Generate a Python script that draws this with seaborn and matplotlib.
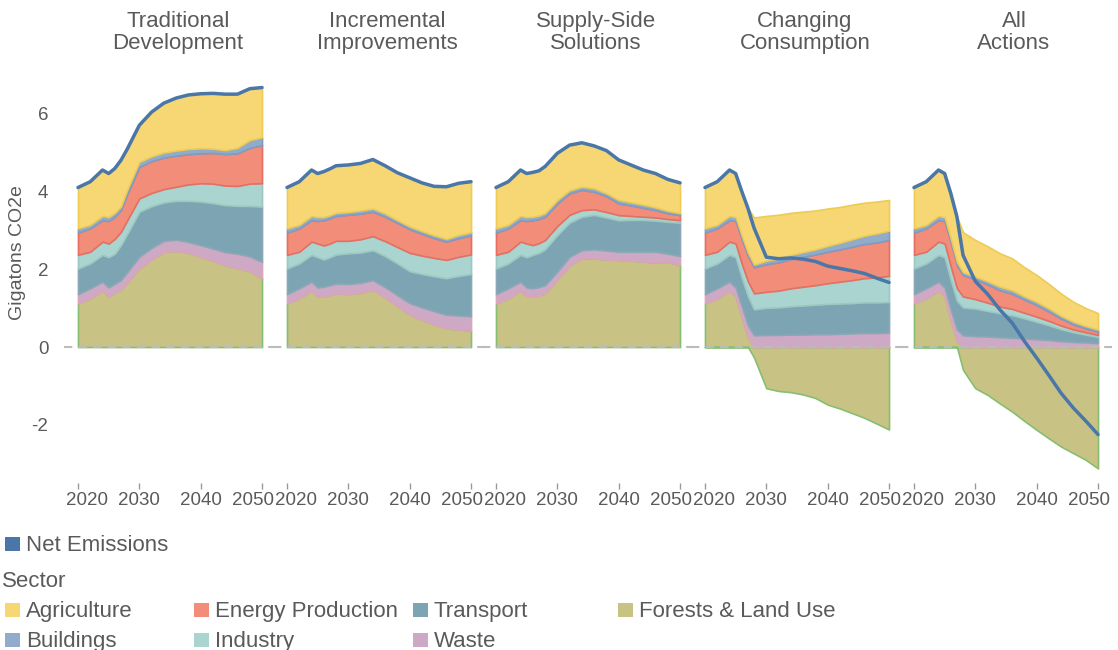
import matplotlib
matplotlib.use("Agg")
import numpy as np
import pandas as pd
import matplotlib.pyplot as plt
import seaborn as sns
from matplotlib.patches import Rectangle
from matplotlib.transforms import ScaledTranslation

sns.set_style("white")
plt.rcParams.update({
    "font.family": ["Liberation Sans", "DejaVu Sans"],
    "axes.unicode_minus": False,
    "axes.axisbelow": True,
})

YEARS = [2020, 2022, 2024, 2025, 2026, 2027, 2028, 2030, 2032,
         2034, 2036, 2038, 2040, 2042, 2044, 2046, 2048, 2050]

# stack order, bottom -> top
SECTORS = ["Forests & Land Use", "Waste", "Transport", "Industry",
           "Energy Production", "Buildings", "Agriculture"]

TRADITIONAL = {
    "Forests & Land Use": [1.12, 1.25, 1.45, 1.30, 1.40, 1.47, 1.65, 2.02, 2.25, 2.45, 2.47, 2.42, 2.32, 2.22, 2.10, 2.03, 1.95, 1.77],
    "Waste":              [0.24, 0.26, 0.23, 0.23, 0.23, 0.25, 0.27, 0.30, 0.30, 0.28, 0.29, 0.28, 0.30, 0.31, 0.34, 0.37, 0.38, 0.42],
    "Transport":          [0.66, 0.64, 0.69, 0.78, 0.77, 0.90, 0.98, 1.16, 1.07, 0.99, 1.00, 1.06, 1.12, 1.17, 1.21, 1.23, 1.30, 1.42],
    "Industry":           [0.35, 0.30, 0.34, 0.35, 0.38, 0.34, 0.35, 0.34, 0.34, 0.34, 0.36, 0.42, 0.47, 0.50, 0.50, 0.51, 0.57, 0.60],
    "Energy Production":  [0.57, 0.60, 0.55, 0.58, 0.57, 0.56, 0.67, 0.81, 0.82, 0.81, 0.80, 0.78, 0.77, 0.79, 0.81, 0.84, 0.92, 0.98],
    "Buildings":          [0.11, 0.09, 0.11, 0.10, 0.10, 0.09, 0.11, 0.13, 0.12, 0.13, 0.13, 0.13, 0.13, 0.11, 0.10, 0.14, 0.20, 0.20],
    "Agriculture":        [1.05, 1.11, 1.18, 1.12, 1.14, 1.19, 1.05, 0.94, 1.14, 1.27, 1.35, 1.39, 1.40, 1.42, 1.44, 1.38, 1.32, 1.28],
}

INCREMENTAL = {
    "Forests & Land Use": [1.12, 1.25, 1.45, 1.30, 1.30, 1.34, 1.38, 1.36, 1.40, 1.47, 1.27, 1.05, 0.83, 0.70, 0.58, 0.48, 0.45, 0.42],
    "Waste":              [0.24, 0.26, 0.23, 0.23, 0.25, 0.25, 0.25, 0.26, 0.25, 0.25, 0.27, 0.28, 0.30, 0.32, 0.34, 0.35, 0.36, 0.37],
    "Transport":          [0.66, 0.64, 0.69, 0.78, 0.70, 0.72, 0.75, 0.79, 0.78, 0.77, 0.80, 0.82, 0.82, 0.86, 0.90, 0.94, 1.02, 1.09],
    "Industry":           [0.35, 0.30, 0.34, 0.35, 0.36, 0.35, 0.35, 0.32, 0.34, 0.36, 0.38, 0.42, 0.47, 0.47, 0.47, 0.47, 0.49, 0.50],
    "Energy Production":  [0.57, 0.60, 0.55, 0.58, 0.65, 0.65, 0.64, 0.67, 0.66, 0.63, 0.63, 0.62, 0.61, 0.56, 0.51, 0.47, 0.48, 0.49],
    "Buildings":          [0.11, 0.09, 0.11, 0.10, 0.08, 0.08, 0.08, 0.07, 0.08, 0.08, 0.08, 0.07, 0.07, 0.07, 0.07, 0.07, 0.08, 0.08],
    "Agriculture":        [1.05, 1.11, 1.18, 1.12, 1.17, 1.19, 1.21, 1.21, 1.21, 1.26, 1.23, 1.22, 1.25, 1.24, 1.26, 1.34, 1.33, 1.30],
}

SUPPLY_SIDE = {
    "Forests & Land Use": [1.12, 1.25, 1.45, 1.30, 1.29, 1.32, 1.38, 1.74, 2.10, 2.28, 2.28, 2.25, 2.24, 2.22, 2.20, 2.17, 2.18, 2.11],
    "Waste":              [0.24, 0.26, 0.23, 0.23, 0.22, 0.22, 0.21, 0.20, 0.22, 0.21, 0.23, 0.23, 0.21, 0.23, 0.25, 0.28, 0.22, 0.23],
    "Transport":          [0.66, 0.64, 0.69, 0.78, 0.86, 0.88, 0.92, 0.94, 0.88, 0.86, 0.89, 0.85, 0.81, 0.82, 0.82, 0.80, 0.82, 0.86],
    "Industry":           [0.35, 0.30, 0.34, 0.35, 0.25, 0.25, 0.24, 0.23, 0.20, 0.17, 0.14, 0.14, 0.13, 0.10, 0.08, 0.08, 0.07, 0.06],
    "Energy Production":  [0.57, 0.60, 0.55, 0.58, 0.64, 0.62, 0.60, 0.58, 0.55, 0.52, 0.45, 0.41, 0.30, 0.27, 0.23, 0.19, 0.15, 0.13],
    "Buildings":          [0.11, 0.09, 0.11, 0.10, 0.09, 0.09, 0.09, 0.09, 0.08, 0.08, 0.09, 0.07, 0.09, 0.08, 0.08, 0.07, 0.06, 0.05],
    "Agriculture":        [1.05, 1.11, 1.18, 1.12, 1.14, 1.15, 1.20, 1.20, 1.16, 1.13, 1.09, 1.10, 1.03, 0.96, 0.89, 0.87, 0.81, 0.78],
}

CONSUMPTION = {
    "Forests & Land Use": [1.12, 1.25, 1.45, 1.30, 0.77, 0.26, -0.27, -1.06, -1.13, -1.16, -1.22, -1.31, -1.48, -1.58, -1.70, -1.82, -1.97, -2.12],
    "Waste":              [0.24, 0.26, 0.23, 0.23, 0.27, 0.30, 0.30, 0.31, 0.31, 0.32, 0.32, 0.33, 0.33, 0.34, 0.35, 0.36, 0.36, 0.37],
    "Transport":          [0.66, 0.64, 0.69, 0.78, 0.74, 0.75, 0.67, 0.70, 0.71, 0.73, 0.75, 0.76, 0.78, 0.78, 0.78, 0.79, 0.79, 0.79],
    "Industry":           [0.35, 0.30, 0.34, 0.35, 0.36, 0.38, 0.41, 0.41, 0.43, 0.46, 0.48, 0.50, 0.53, 0.56, 0.59, 0.62, 0.64, 0.67],
    "Energy Production":  [0.57, 0.60, 0.55, 0.58, 0.63, 0.66, 0.67, 0.71, 0.73, 0.75, 0.77, 0.79, 0.81, 0.83, 0.86, 0.88, 0.90, 0.92],
    "Buildings":          [0.11, 0.09, 0.11, 0.10, 0.09, 0.08, 0.07, 0.09, 0.10, 0.11, 0.12, 0.13, 0.15, 0.17, 0.19, 0.21, 0.23, 0.24],
    "Agriculture":        [1.05, 1.11, 1.18, 1.12, 1.14, 1.14, 1.21, 1.15, 1.12, 1.08, 1.04, 1.00, 0.96, 0.92, 0.89, 0.85, 0.82, 0.79],
}

ALL_ACTIONS = {
    "Forests & Land Use": [1.12, 1.25, 1.45, 1.30, 0.69, 0.15, -0.59, -1.06, -1.23, -1.45, -1.66, -1.90, -2.13, -2.35, -2.56, -2.73, -2.90, -3.12],
    "Waste":              [0.24, 0.26, 0.23, 0.23, 0.27, 0.30, 0.30, 0.28, 0.27, 0.25, 0.24, 0.22, 0.20, 0.18, 0.15, 0.13, 0.12, 0.10],
    "Transport":          [0.66, 0.64, 0.69, 0.78, 0.76, 0.74, 0.72, 0.71, 0.66, 0.62, 0.58, 0.52, 0.45, 0.38, 0.31, 0.25, 0.20, 0.16],
    "Industry":           [0.35, 0.30, 0.34, 0.35, 0.35, 0.32, 0.28, 0.24, 0.21, 0.17, 0.16, 0.14, 0.13, 0.11, 0.09, 0.07, 0.06, 0.05],
    "Energy Production":  [0.57, 0.60, 0.55, 0.58, 0.63, 0.60, 0.55, 0.51, 0.47, 0.42, 0.39, 0.34, 0.30, 0.24, 0.18, 0.13, 0.10, 0.08],
    "Buildings":          [0.11, 0.09, 0.11, 0.10, 0.09, 0.08, 0.07, 0.07, 0.08, 0.09, 0.09, 0.08, 0.08, 0.08, 0.07, 0.07, 0.06, 0.06],
    "Agriculture":        [1.05, 1.11, 1.18, 1.12, 1.16, 1.16, 1.03, 0.94, 0.90, 0.86, 0.82, 0.75, 0.69, 0.63, 0.57, 0.51, 0.46, 0.42],
}

SCENARIOS = ["Traditional\nDevelopment", "Incremental\nImprovements",
             "Supply-Side\nSolutions", "Changing\nConsumption", "All\nActions"]
SCENARIO_DATA = [TRADITIONAL, INCREMENTAL, SUPPLY_SIDE, CONSUMPTION, ALL_ACTIONS]

X_TICKS = [2020, 2030, 2040, 2050]
Y_TICKS = [-2, 0, 2, 4, 6]

FILL = {
    "Agriculture": "#F6D774",
    "Buildings": "#91ABCA",
    "Energy Production": "#F18D78",
    "Industry": "#AAD4CF",
    "Transport": "#7DA4B3",
    "Waste": "#CDA9C6",
    "Forests & Land Use": "#C8C384",
}
EDGE = {
    "Agriculture": "#EDCB55",
    "Buildings": "#7E9CC4",
    "Energy Production": "#E46F62",
    "Industry": "#9CC8C2",
    "Transport": "#8AA8B5",
    "Waste": "#DFA3BA",
    "Forests & Land Use": "#86BE72",
}
NET_COLOR = "#4A77A8"
TEXT = "#5a5a5a"

# long table
rows = []
for name, table in zip(SCENARIOS, SCENARIO_DATA):
    for sector, vals in table.items():
        for yr, v in zip(YEARS, vals):
            rows.append((name, sector, yr, v))
df = pd.DataFrame(rows, columns=["scenario", "sector", "year", "value"])
net = df.groupby(["scenario", "year"], as_index=False)["value"].sum()

W, H = 1118, 650
fig = plt.figure(figsize=(W / 100, H / 100), dpi=100)

AX_TOP, AX_BOT = 74.7, 483.2


def fx(px):
    return px / W


def fy(py):
    return 1 - py / H


for i, name in enumerate(SCENARIOS):
    left = 70 + 209 * i
    ax = fig.add_axes([fx(left), fy(AX_BOT), fx(200), (AX_BOT - AX_TOP) / H])

    wide = (df[df["scenario"] == name]
            .pivot(index="year", columns="sector", values="value")[SECTORS])
    x = wide.index.values
    pos = wide.clip(lower=0)
    neg = wide.clip(upper=0)
    base = np.zeros(len(x))
    nbase = np.zeros(len(x))
    for sector in SECTORS:
        top = base + pos[sector].values
        ax.fill_between(x, base, top, facecolor=FILL[sector],
                        edgecolor=EDGE[sector], linewidth=1.2, zorder=2)
        base = top
        if (neg[sector] < 0).any():
            bottom = nbase + neg[sector].values
            ax.fill_between(x, bottom, nbase, facecolor=FILL[sector],
                            edgecolor=EDGE[sector], linewidth=1.2, zorder=2)
            nbase = bottom

    ax.axhline(0, xmin=-0.03, xmax=1.03, clip_on=False, color="#bbbbbb",
               linestyle=(0, (4, 3)), linewidth=1.5, zorder=3)

    sns.lineplot(data=net[net["scenario"] == name], x="year", y="value",
                 color=NET_COLOR, linewidth=2.5, ax=ax, zorder=5)

    ax.set_xlim(2020 - 1.3, 2050 + 1.3)
    ax.set_ylim(-3.5, 7.0)
    ax.set_xlabel("")
    ax.set_ylabel("")
    for s in ax.spines.values():
        s.set_visible(False)

    ax.set_xticks(X_TICKS)
    ax.set_xticklabels([str(t) for t in X_TICKS])
    ax.tick_params(axis="x", bottom=True, length=4, width=1, color="#999999",
                   labelsize=13.5, labelcolor=TEXT, pad=2)
    labels = ax.get_xticklabels()
    labels[0].set_transform(labels[0].get_transform()
                            + ScaledTranslation(0.09, 0, fig.dpi_scale_trans))
    labels[-1].set_transform(labels[-1].get_transform()
                             + ScaledTranslation(-0.09, 0, fig.dpi_scale_trans))

    ax.set_yticks(Y_TICKS)
    if i == 0:
        ax.tick_params(axis="y", left=False, labelsize=13.5, labelcolor=TEXT, pad=12)
    else:
        ax.tick_params(axis="y", left=False, labelleft=False)
    ax.grid(False)

    # two-line panel title
    cx = left + 108
    for k, line in enumerate(name.split("\n")):
        fig.text(fx(cx), fy(27 + 22 * k), line, ha="center", va="baseline",
                 fontsize=16, color=TEXT)

fig.text(fx(18), fy(253), "Gigatons CO2e", rotation=90, ha="center", va="center",
         fontsize=14, color=TEXT)


# legend, drawn as boxes and text
def legend_item(x, baseline, color, label):
    fig.add_artist(Rectangle((fx(x), fy(baseline)), fx(15), 14.5 / H,
                             transform=fig.transFigure, facecolor=color,
                             edgecolor="none"))
    fig.text(fx(x + 21), fy(baseline), label, ha="left", va="baseline",
             fontsize=16, color=TEXT)


legend_item(5, 551, NET_COLOR, "Net Emissions")
fig.text(fx(2), fy(587), "Sector", ha="left", va="baseline", fontsize=16, color=TEXT)
legend_item(5, 617, FILL["Agriculture"], "Agriculture")
legend_item(194, 617, FILL["Energy Production"], "Energy Production")
legend_item(413, 617, FILL["Transport"], "Transport")
legend_item(618, 617, FILL["Forests & Land Use"], "Forests & Land Use")
legend_item(5, 647, FILL["Buildings"], "Buildings")
legend_item(194, 647, FILL["Industry"], "Industry")
legend_item(413, 647, FILL["Waste"], "Waste")

fig.savefig("out.png", dpi=100)
